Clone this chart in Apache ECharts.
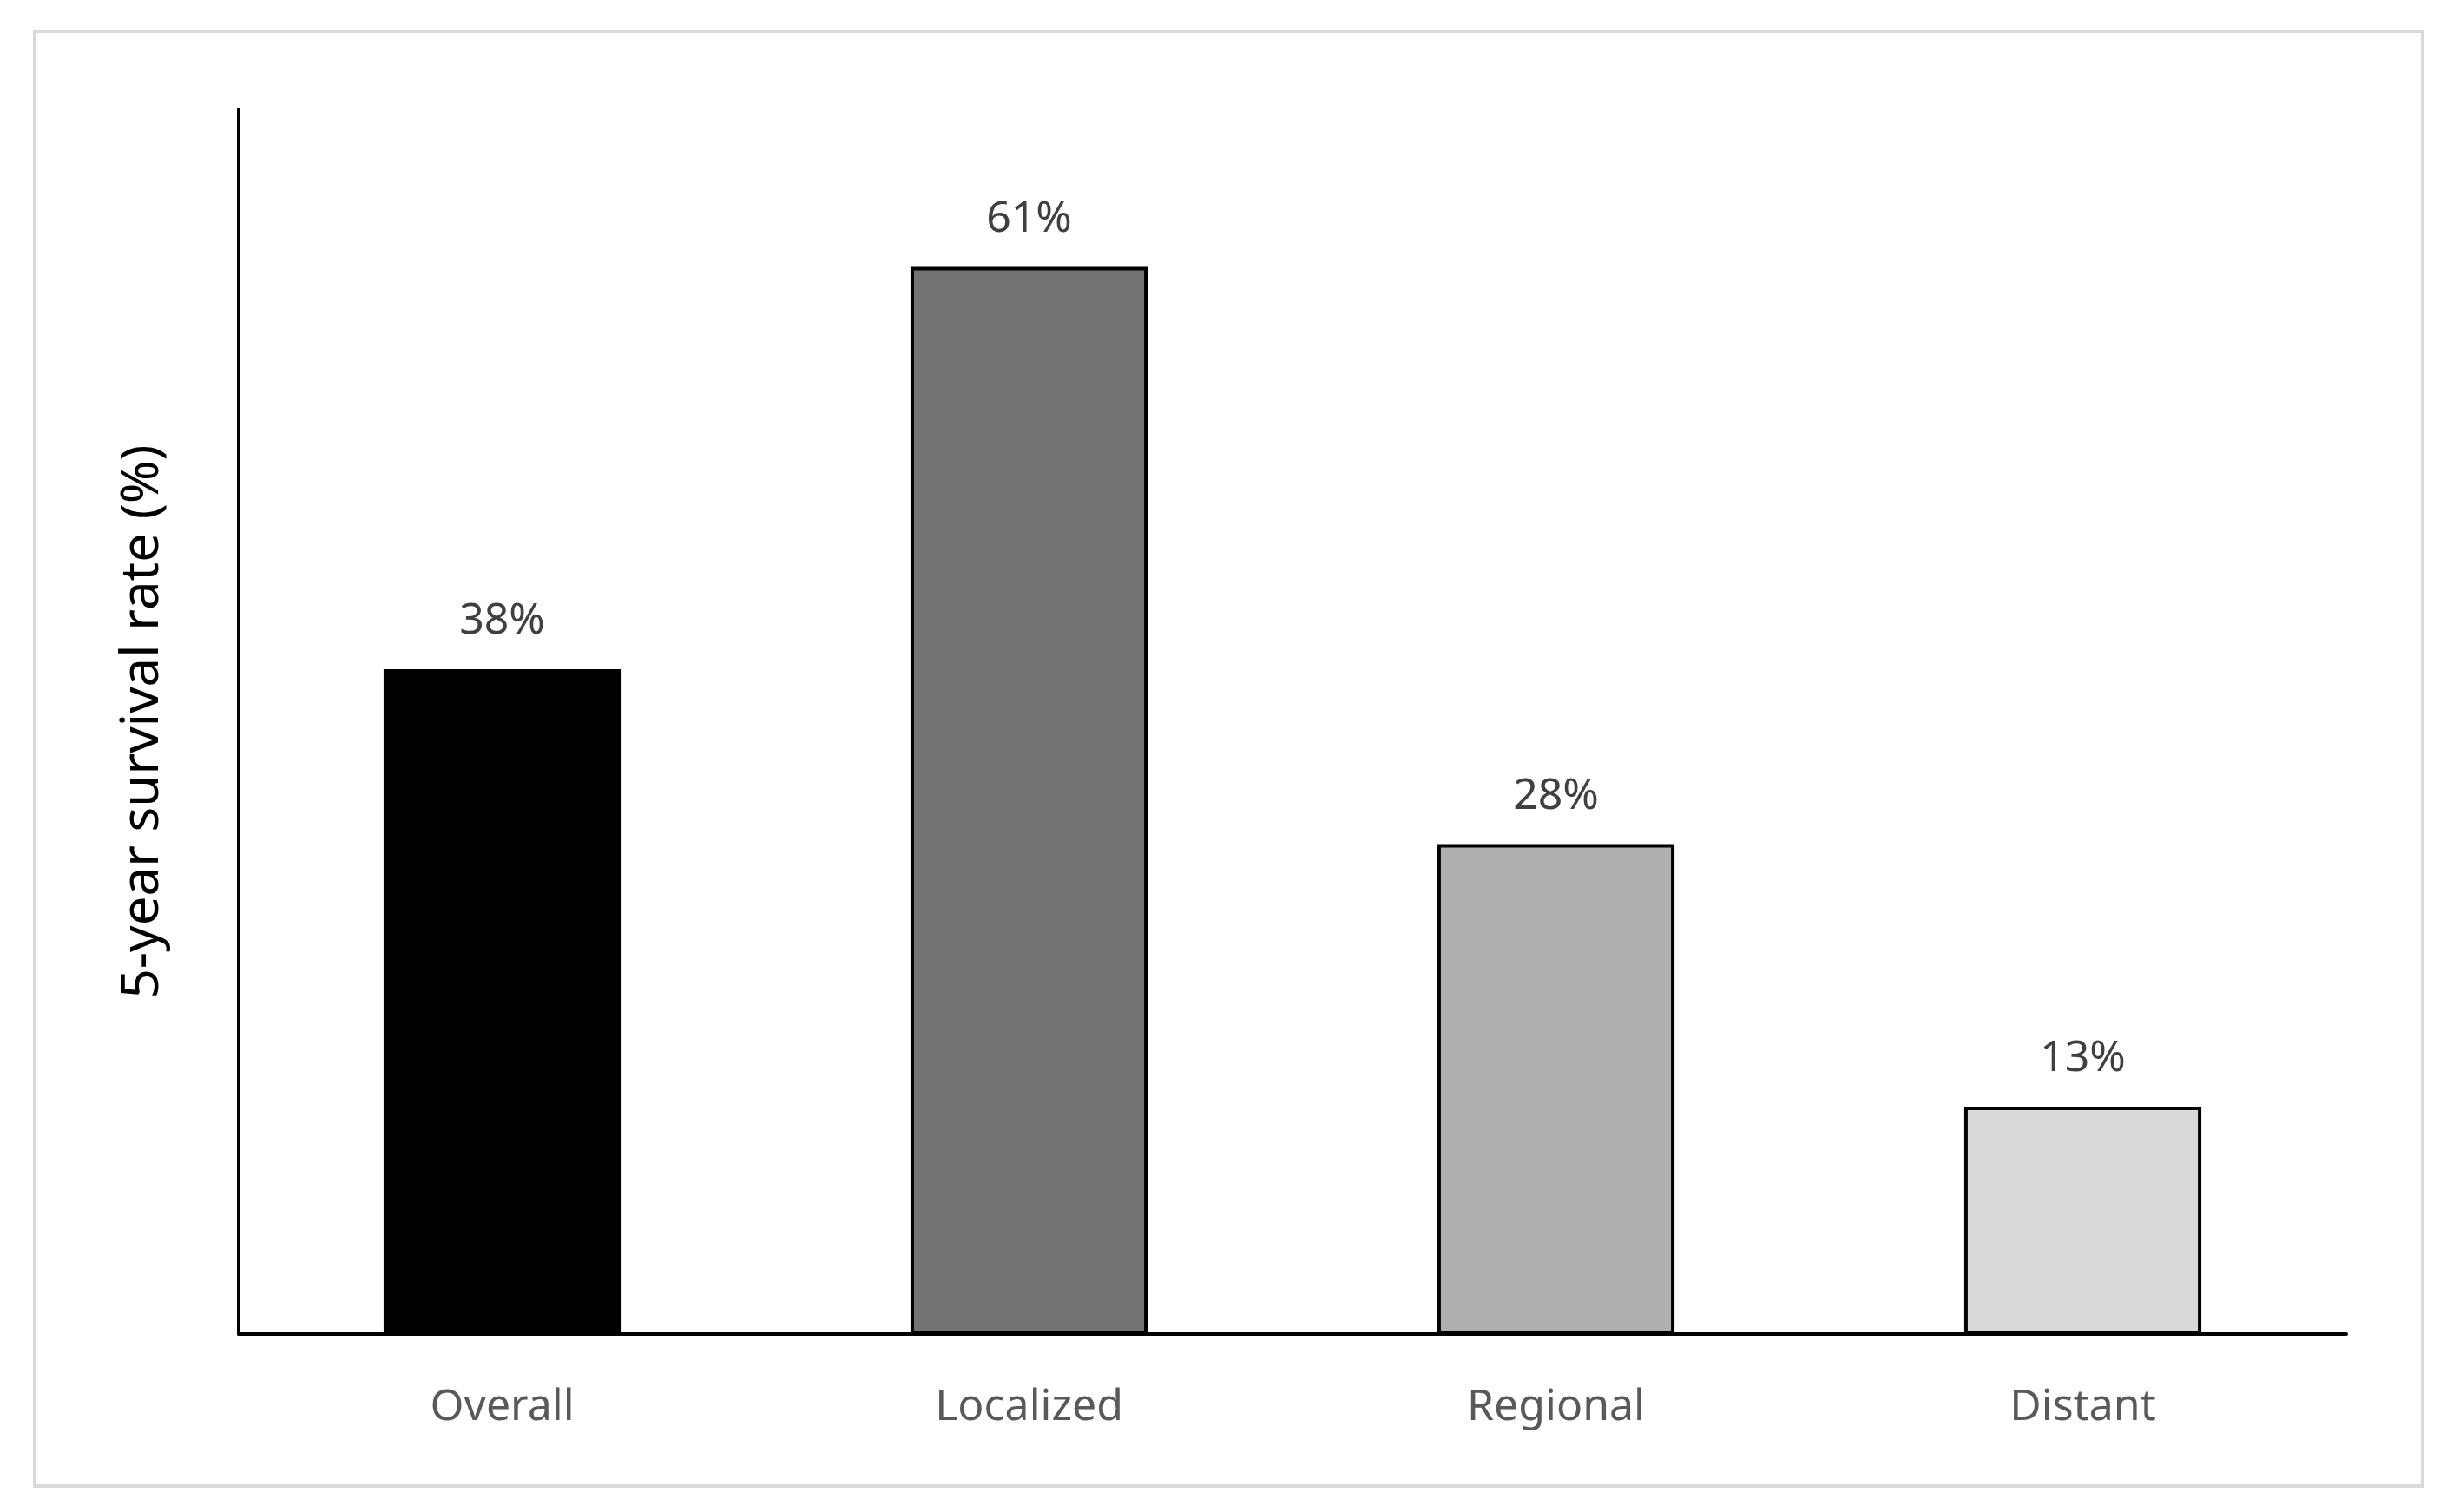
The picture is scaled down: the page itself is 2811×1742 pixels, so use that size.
<!DOCTYPE html>
<html>
<head>
<meta charset="utf-8">
<script src="https://cdn.jsdelivr.net/npm/echarts@6/dist/echarts.min.js"></script>
<style>html,body{margin:0;padding:0;background:#fff}#chart{width:2811px;height:1742px}</style>
</head>
<body>
<div id="chart"></div>
<script>
var categories = ['Overall', 'Localized', 'Regional', 'Distant']
var values = [38, 61, 28, 13]
var colors = ['#000000', '#737373', '#afafaf', '#d9d9d9']

var chart = echarts.init(document.getElementById('chart'))
chart.setOption({
    backgroundColor: '#fff',
    graphic: [{
        type: 'rect',
        shape: { x: 40, y: 36, width: 2751, height: 1676 },
        style: { fill: 'none', stroke: '#d9d9d9', lineWidth: 4 }
    }],
    grid: { left: 275, right: 108, top: 126, bottom: 205 },
    xAxis: {
        type: 'category',
        data: categories,
        axisLine: { lineStyle: { color: '#000', width: 4 } },
        axisTick: { show: false },
        axisLabel: { color: '#595959', fontSize: 50, fontFamily: 'Noto Sans', margin: 60 }
    },
    yAxis: {
        type: 'value',
        min: 0,
        max: 70,
        name: '5-year survival rate (%)',
        nameLocation: 'middle',
        nameGap: 80,
        nameTextStyle: { color: '#000', fontSize: 60, fontFamily: 'Noto Sans' },
        axisLine: { show: true, lineStyle: { color: '#000', width: 4 } },
        axisTick: { show: false },
        axisLabel: { show: false },
        splitLine: { show: false }
    },
    series: [{
        type: 'bar',
        barWidth: '45%',
        data: values.map(function (v, i) {
            return { value: v, itemStyle: { color: colors[i] } }
        }),
        itemStyle: { borderColor: '#000', borderWidth: 4 },
        label: {
            show: true,
            position: 'top',
            distance: 30,
            formatter: '{c}%',
            color: '#404040',
            fontSize: 50,
            fontFamily: 'Noto Sans'
        }
    }]
})
</script>
</body>
</html>
